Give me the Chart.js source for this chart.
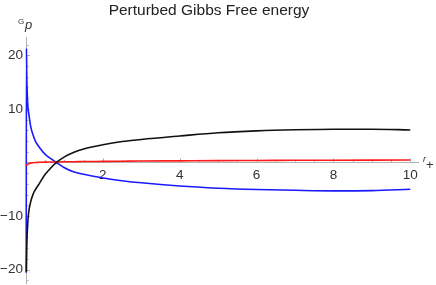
<!DOCTYPE html>
<html>
<head>
<meta charset="utf-8">
<script src="https://cdn.jsdelivr.net/npm/chart.js@4/dist/chart.umd.min.js"></script>
<style>
html,body{margin:0;padding:0;background:#fff;}
#wrap{width:436px;height:285px;position:relative;}
</style>
</head>
<body>
<div id="wrap"><canvas id="c" width="436" height="285"></canvas></div>
<script>
// Data
const titleText = "Perturbed Gibbs Free energy";
const rValues = [0.01, 0.02, 0.03, 0.05, 0.08, 0.12, 0.18, 0.25, 0.35, 0.5, 0.65, 0.8, 1.0, 1.25, 1.5, 2, 2.5, 3, 4, 5, 6, 7, 8, 9, 10];
const blackSeries = [-20.4, -16, -13.5, -10.8, -8.8, -7.4, -6.0, -5.0, -3.9, -2.2, -1.0, 0.05, 1.05, 1.9, 2.5, 3.3, 3.9, 4.3, 4.95, 5.55, 5.9, 6.1, 6.2, 6.2, 6.07];
const redSeries = [-0.65, -0.5, -0.4, -0.3, -0.2, -0.12, -0.05, 0, 0.03, 0.06, 0.08, 0.1, 0.12, 0.14, 0.17, 0.2, 0.23, 0.26, 0.3, 0.34, 0.37, 0.4, 0.42, 0.44, 0.46];
// blue curve: jumps along the axis from the bottom to the top, then decays
const blueR = [0.005, 0.012, 0.02, 0.03, 0.05, 0.08, 0.12, 0.18, 0.25, 0.35, 0.5, 0.65, 0.8, 1.0, 1.25, 1.5, 2, 2.5, 3, 4, 5, 6, 7, 8, 9, 10];
const blueSeries = [-20.6, 21.3, 16, 13.5, 10.4, 8.7, 6.8, 5.2, 3.9, 2.8, 1.5, 0.7, -0.05, -1.0, -1.8, -2.2, -2.9, -3.4, -3.8, -4.4, -4.8, -5.05, -5.2, -5.3, -5.25, -5.0];
const xTickLabels = [2, 4, 6, 8, 10];
const yTickLabels = [-20, -10, 10, 20];

const pts = (xs, arr) => xs.map((x, i) => ({x: x, y: arr[i]}));

const axisColor = '#b3b3b3';
const labelColor = '#333333';
const fontFam = '"Liberation Sans", Arial, sans-serif';

const axisDecor = {
  id: 'axisDecor',
  beforeDatasetsDraw(chart) {
    const ctx = chart.ctx;
    const xs = chart.scales.x, ys = chart.scales.y;
    const y0 = ys.getPixelForValue(0);
    const x0 = xs.getPixelForValue(0);
    ctx.save();
    ctx.strokeStyle = axisColor;
    ctx.lineWidth = 1;
    ctx.beginPath();
    for (let v = 0.5; v <= 10.01; v += 0.5) {
      const px = Math.round(xs.getPixelForValue(v)) + 0.5;
      const len = (Math.abs(v % 2) < 1e-6) ? 4 : 2.5;
      ctx.moveTo(px, y0);
      ctx.lineTo(px, y0 - len);
    }
    for (let v = -22; v <= 22; v += 2) {
      if (v === 0) continue;
      const py = Math.round(ys.getPixelForValue(v)) + 0.5;
      const len = (v % 10 === 0) ? 4 : 2.5;
      ctx.moveTo(x0, py);
      ctx.lineTo(x0 + len, py);
    }
    ctx.stroke();
    ctx.restore();
  },
  afterDatasetsDraw(chart) {
    const ctx = chart.ctx;
    ctx.save();
    ctx.fillStyle = labelColor;
    ctx.textBaseline = 'alphabetic';
    ctx.textAlign = 'left';
    ctx.font = '8px ' + fontFam;
    ctx.fillText('G', 18, 24);
    ctx.font = 'italic 13px ' + fontFam;
    ctx.fillText('p', 25, 29);
    ctx.font = 'italic 9px ' + fontFam;
    ctx.fillText('r', 423, 162);
    ctx.font = '13px ' + fontFam;
    ctx.fillText('+', 426, 169);
    ctx.restore();
  }
};

const clipBox = {left: 3, top: 0, right: 0, bottom: 0};

new Chart(document.getElementById('c'), {
  type: 'line',
  data: {
    datasets: [
      {label: 'black', data: pts(rValues, blackSeries), borderColor: '#111111', borderWidth: 1.6, pointRadius: 0, tension: 0.4, cubicInterpolationMode: 'monotone', fill: false, clip: clipBox},
      {label: 'red', data: pts(rValues, redSeries), borderColor: '#ff1a1a', borderWidth: 1.6, pointRadius: 0, tension: 0.4, cubicInterpolationMode: 'monotone', fill: false, clip: clipBox},
      {label: 'blue', data: pts(blueR, blueSeries), borderColor: '#1a1aff', borderWidth: 1.6, pointRadius: 0, tension: 0.4, cubicInterpolationMode: 'monotone', fill: false, clip: clipBox}
    ]
  },
  options: {
    responsive: false,
    animation: false,
    layout: {padding: {left: 0, right: 18, top: 0, bottom: 2}},
    plugins: {
      legend: {display: false},
      tooltip: {enabled: false},
      title: {
        display: true,
        text: titleText,
        color: '#222222',
        font: {family: fontFam, size: 15.5, weight: 'normal'},
        padding: {top: 1, bottom: 17.5}
      }
    },
    scales: {
      x: {
        type: 'linear',
        min: 0, max: 10.2,
        position: {y: 0},
        grid: {display: true, drawOnChartArea: false, drawTicks: false},
        border: {display: true, color: axisColor, width: 1},
        afterBuildTicks(scale) { scale.ticks = xTickLabels.map(v => ({value: v})); },
        afterFit(scale) { scale.height = 0; scale.paddingLeft = 0; scale.paddingRight = 0; },
        ticks: {
          color: labelColor,
          padding: 5,
          maxRotation: 0,
          autoSkip: false,
          font: {family: fontFam, size: 13.5}
        }
      },
      y: {
        type: 'linear',
        min: -22.5, max: 23.4,
        position: 'left',
        grid: {display: true, drawOnChartArea: false, drawTicks: false},
        border: {display: true, color: axisColor, width: 1},
        afterBuildTicks(scale) { scale.ticks = yTickLabels.map(v => ({value: v})); },
        afterFit(scale) { scale.width = 26; scale.paddingTop = 0; scale.paddingBottom = 0; },
        ticks: {
          color: labelColor,
          padding: 3,
          autoSkip: false,
          font: {family: fontFam, size: 13.5},
          callback: v => (v < 0 ? '\u2212' + Math.abs(v) : String(v))
        }
      }
    }
  },
  plugins: [axisDecor]
});
</script>
</body>
</html>
